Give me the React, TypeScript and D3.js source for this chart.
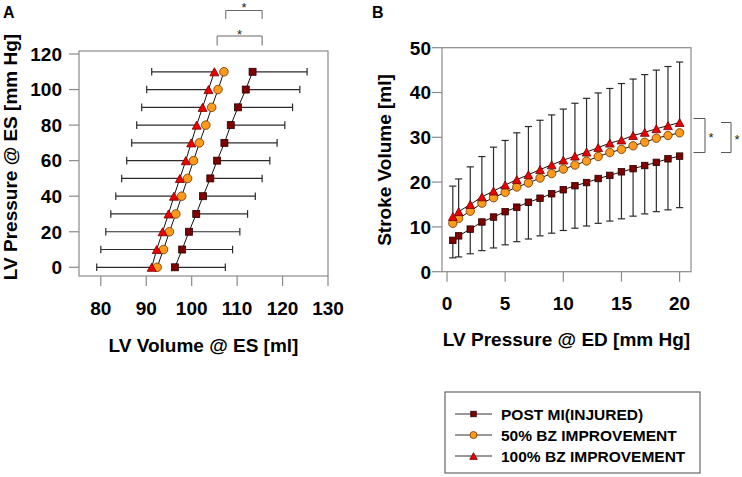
import React from "react";
import * as d3 from "d3";

// ---------- Panel A data ----------
const pressureES = [0, 10, 20, 30, 40, 50, 60, 70, 80, 90, 100, 110];
const volPostMI = [96.3, 97.9, 99.4, 101.0, 102.5, 104.1, 105.6, 107.2, 108.6, 110.2, 111.9, 113.4];
const volPostMISD = [11.1, 11.1, 11.2, 11.3, 11.5, 11.4, 11.6, 11.6, 11.9, 12.0, 11.9, 12.0];
const vol50 = [92.4, 93.8, 95.1, 96.5, 97.8, 99.1, 100.4, 101.7, 103.1, 104.4, 105.8, 107.1];
const vol100 = [91.2, 92.3, 93.6, 94.9, 96.1, 97.4, 98.7, 99.9, 101.1, 102.4, 103.7, 105.0];
const vol100SD = [12.1, 12.3, 12.5, 12.7, 12.8, 12.8, 13.0, 13.1, 13.2, 13.4, 13.6, 13.8];
const xTicksA = [80, 90, 100, 110, 120, 130];
const yTicksA = [0, 20, 40, 60, 80, 100, 120];

// ---------- Panel B data ----------
const pressureED = [0.5, 1, 2, 3, 4, 5, 6, 7, 8, 9, 10, 11, 12, 13, 14, 15, 16, 17, 18, 19, 20];
const svPostMI = [7.0, 8.0, 9.5, 11.1, 12.2, 13.4, 14.4, 15.5, 16.4, 17.4, 18.3, 19.2, 19.9, 20.8, 21.5, 22.3, 23.0, 23.7, 24.4, 25.2, 25.8];
const svPostMISD = [3.9, 4.7, 5.5, 6.4, 6.9, 7.4, 7.7, 8.2, 8.4, 8.8, 9.1, 9.5, 9.7, 10.0, 10.2, 10.5, 10.6, 10.8, 11.0, 11.4, 11.5];
const sv50 = [10.8, 11.9, 13.5, 15.3, 16.5, 17.7, 18.9, 19.8, 20.9, 21.9, 22.9, 23.8, 24.7, 25.7, 26.6, 27.3, 28.1, 28.9, 29.8, 30.4, 31.0];
const sv100 = [12.3, 13.4, 15.0, 16.7, 18.0, 19.35, 20.55, 21.65, 22.8, 23.85, 24.9, 25.8, 26.7, 27.7, 28.7, 29.4, 30.4, 31.1, 31.9, 32.6, 33.3];
const sv100SD = [6.8, 7.3, 8.4, 9.0, 9.8, 9.95, 10.45, 10.75, 11.0, 11.15, 11.4, 11.8, 12.0, 12.2, 12.2, 12.6, 12.6, 12.9, 13.1, 13.2, 13.5];
const xTicksB = [0, 5, 10, 15, 20];
const yTicksB = [0, 10, 20, 30, 40, 50];

const legendLabels = ["POST MI(INJURED)", "50% BZ IMPROVEMENT", "100% BZ IMPROVEMENT"];

const FONT = "'Liberation Sans', Arial, Helvetica, sans-serif";
const SQ_FILL = "#7f0000";
const SQ_STROKE = "#2a0000";
const CI_FILL = "#ff9a1c";
const CI_STROKE = "#6b3300";
const TR_FILL = "#ee0000";
const TR_STROKE = "#700000";
const BAR = "#2b2b2b";
const FRAME = "#8a8a8a";
const TICK_FS = 19;

type Shape = "square" | "circle" | "triangle";

function Marker({ x, y, shape, size }: { x: number; y: number; shape: Shape; size: number }) {
  if (shape === "square") {
    return <rect x={x - size / 2} y={y - size / 2} width={size} height={size} fill={SQ_FILL} stroke={SQ_STROKE} strokeWidth={0.8} />;
  }
  if (shape === "circle") {
    return <circle cx={x} cy={y} r={size / 2} fill={CI_FILL} stroke={CI_STROKE} strokeWidth={0.8} />;
  }
  const h = size * 0.9;
  const pts = `${x - size / 2},${y + h / 2} ${x + size / 2},${y + h / 2} ${x},${y - h / 2}`;
  return <polygon points={pts} fill={TR_FILL} stroke={TR_STROKE} strokeWidth={0.8} />;
}

function PanelA() {
  const L = 79, R = 328, T = 51, B = 276;
  const x = d3.scaleLinear().domain([75.2, 130]).range([L, R]);
  const y = d3.scaleLinear().domain([-4.9, 121.7]).range([B, T]);
  const lineH = d3.line<[number, number]>().x((d) => x(d[0])).y((d) => y(d[1]));
  const series: { v: number[]; shape: Shape; size: number }[] = [
    { v: volPostMI, shape: "square", size: 7 },
    { v: vol50, shape: "circle", size: 8.6 },
    { v: vol100, shape: "triangle", size: 9 },
  ];
  const cap = 3.8;
  return (
    <g>
      {/* brackets */}
      <g stroke="#666" strokeWidth={1} fill="none">
        <path d={`M${x(107.5)},${T - 32} V${T - 40.5} H${x(115.5)} V${T - 32}`} />
        <path d={`M${x(105.6)},${T - 5.5} V${T - 15} H${x(115.5)} V${T - 5.5}`} />
      </g>
      <text x={(x(107.5) + x(115.5)) / 2} y={T - 39} fontSize={13} textAnchor="middle" fontFamily={FONT} fill="#222">*</text>
      <text x={(x(105.6) + x(115.5)) / 2} y={T - 12.5} fontSize={13} textAnchor="middle" fontFamily={FONT} fill="#222">*</text>

      <rect x={L} y={T} width={R - L} height={B - T} fill="none" stroke={FRAME} strokeWidth={1.2} />
      {yTicksA.map((t) => (
        <g key={"ya" + t}>
          <line x1={L - 10} x2={L} y1={y(t)} y2={y(t)} stroke={FRAME} strokeWidth={1.2} />
          <text x={L - 17} y={y(t) + 6.8} textAnchor="end" fontSize={TICK_FS} fontWeight="bold" fontFamily={FONT}>{t}</text>
        </g>
      ))}
      {xTicksA.map((t) => (
        <g key={"xa" + t}>
          <line x1={x(t)} x2={x(t)} y1={B} y2={B + 10} stroke={FRAME} strokeWidth={1.2} />
          <text x={x(t)} y={B + 39} textAnchor="middle" fontSize={TICK_FS} fontWeight="bold" fontFamily={FONT}>{t}</text>
        </g>
      ))}
      <text x={(L + R) / 2} y={352} textAnchor="middle" fontSize={19} fontWeight="bold" fontFamily={FONT}>LV Volume @ ES [ml]</text>
      <text transform={`translate(17,${157}) rotate(-90)`} textAnchor="middle" fontSize={19} fontWeight="bold" fontFamily={FONT}>LV Pressure @ ES [mm Hg]</text>
      <text x={3} y={18} fontSize={16} fontWeight="bold" fontFamily={FONT}>A</text>

      {/* error bars */}
      {pressureES.map((p, i) => (
        <g key={"eb" + i} stroke={BAR} strokeWidth={1.2}>
          <line x1={x(volPostMI[i])} x2={x(volPostMI[i] + volPostMISD[i])} y1={y(p)} y2={y(p)} />
          <line x1={x(volPostMI[i] + volPostMISD[i])} x2={x(volPostMI[i] + volPostMISD[i])} y1={y(p) - cap} y2={y(p) + cap} />
          <line x1={x(vol100[i])} x2={x(vol100[i] - vol100SD[i])} y1={y(p)} y2={y(p)} />
          <line x1={x(vol100[i] - vol100SD[i])} x2={x(vol100[i] - vol100SD[i])} y1={y(p) - cap} y2={y(p) + cap} />
        </g>
      ))}
      {series.map((s, k) => (
        <path key={"la" + k} d={lineH(pressureES.map((p, i) => [s.v[i], p] as [number, number])) || ""} fill="none" stroke="#111" strokeWidth={1} />
      ))}
      {series.map((s, k) => (
        <g key={"ma" + k}>
          {pressureES.map((p, i) => (
            <Marker key={i} x={x(s.v[i])} y={y(p)} shape={s.shape} size={s.size} />
          ))}
        </g>
      ))}
    </g>
  );
}

function PanelB() {
  const L = 442, R = 691, T = 47.7, B = 271.7;
  const x = d3.scaleLinear().domain([-0.43, 20.98]).range([L, R]);
  const y = d3.scaleLinear().domain([0, 50]).range([B, T]);
  const line = d3.line<[number, number]>().x((d) => x(d[0])).y((d) => y(d[1]));
  const series: { v: number[]; shape: Shape; size: number }[] = [
    { v: svPostMI, shape: "square", size: 6.5 },
    { v: sv50, shape: "circle", size: 8.4 },
    { v: sv100, shape: "triangle", size: 8.8 },
  ];
  const cap = 3.6;
  const last = pressureED.length - 1;
  const mid = y((sv100[last] + svPostMI[last]) / 2);
  return (
    <g>
      <rect x={L} y={T} width={R - L} height={B - T} fill="none" stroke={FRAME} strokeWidth={1.2} />
      {yTicksB.map((t) => (
        <g key={"yb" + t}>
          <line x1={L - 10} x2={L} y1={y(t)} y2={y(t)} stroke={FRAME} strokeWidth={1.2} />
          <text x={L - 11} y={y(t) + 6.8} textAnchor="end" fontSize={TICK_FS} fontWeight="bold" fontFamily={FONT}>{t}</text>
        </g>
      ))}
      {xTicksB.map((t) => (
        <g key={"xb" + t}>
          <line x1={x(t)} x2={x(t)} y1={B} y2={B + 10} stroke={FRAME} strokeWidth={1.2} />
          <text x={x(t)} y={B + 38} textAnchor="middle" fontSize={TICK_FS} fontWeight="bold" fontFamily={FONT}>{t}</text>
        </g>
      ))}
      <text x={(L + R) / 2} y={346} textAnchor="middle" fontSize={19} fontWeight="bold" fontFamily={FONT}>LV Pressure @ ED [mm Hg]</text>
      <text transform={`translate(391,${160}) rotate(-90)`} textAnchor="middle" fontSize={19} fontWeight="bold" fontFamily={FONT}>Stroke Volume [ml]</text>
      <text x={372} y={18} fontSize={16} fontWeight="bold" fontFamily={FONT}>B</text>

      {/* brackets */}
      <g stroke="#555" strokeWidth={1} fill="none">
        <path d={`M${R + 2.5},${y(sv100[last] + 0.9)} H${R + 14} V${y(svPostMI[last] + 0.8)} H${R + 2.5}`} />
        <path d={`M${R + 30},${y(sv100[last])} H${R + 40} V${y(svPostMI[last] + 0.8)} H${R + 30}`} />
      </g>
      <text x={R + 20} y={mid + 3} fontSize={13} textAnchor="middle" fontFamily={FONT} fill="#222">*</text>
      <text x={R + 46} y={mid + 5} fontSize={13} textAnchor="middle" fontFamily={FONT} fill="#222">*</text>

      {pressureED.map((p, i) => (
        <g key={"ebb" + i} stroke={BAR} strokeWidth={1.2}>
          <line x1={x(p)} x2={x(p)} y1={y(svPostMI[i])} y2={y(svPostMI[i] - svPostMISD[i])} />
          <line x1={x(p) - cap} x2={x(p) + cap} y1={y(svPostMI[i] - svPostMISD[i])} y2={y(svPostMI[i] - svPostMISD[i])} />
          <line x1={x(p)} x2={x(p)} y1={y(sv100[i])} y2={y(sv100[i] + sv100SD[i])} />
          <line x1={x(p) - cap} x2={x(p) + cap} y1={y(sv100[i] + sv100SD[i])} y2={y(sv100[i] + sv100SD[i])} />
        </g>
      ))}
      {series.map((s, k) => (
        <path key={"lb" + k} d={line(pressureED.map((p, i) => [p, s.v[i]] as [number, number])) || ""} fill="none" stroke="#111" strokeWidth={1} />
      ))}
      {series.map((s, k) => (
        <g key={"mb" + k}>
          {pressureED.map((p, i) => (
            <Marker key={i} x={x(p)} y={y(s.v[i])} shape={s.shape} size={s.size} />
          ))}
        </g>
      ))}
    </g>
  );
}

function Legend() {
  const shapes: Shape[] = ["square", "circle", "triangle"];
  const sizes = [5.5, 7, 7.5];
  const rowY = d3.scaleLinear().domain([0, 2]).range([414, 456]);
  return (
    <g>
      <rect x={445} y={392} width={255} height={81} fill="#fff" stroke="#666" strokeWidth={1.2} />
      {legendLabels.map((lab, i) => (
        <g key={lab}>
          <line x1={455} x2={492} y1={rowY(i)} y2={rowY(i)} stroke="#333" strokeWidth={1} />
          <Marker x={473.5} y={rowY(i)} shape={shapes[i]} size={sizes[i]} />
          <text x={501} y={rowY(i) + 5.5} fontSize={15.5} fontWeight="bold" fontFamily={FONT}>{lab}</text>
        </g>
      ))}
    </g>
  );
}

export default function App() {
  return (
    <svg width={742} height={477} viewBox="0 0 742 477" style={{ position: "absolute", left: 0, top: 0, background: "#fff" }}>
      <rect x={0} y={0} width={742} height={477} fill="#fff" />
      <PanelA />
      <PanelB />
      <Legend />
    </svg>
  );
}
